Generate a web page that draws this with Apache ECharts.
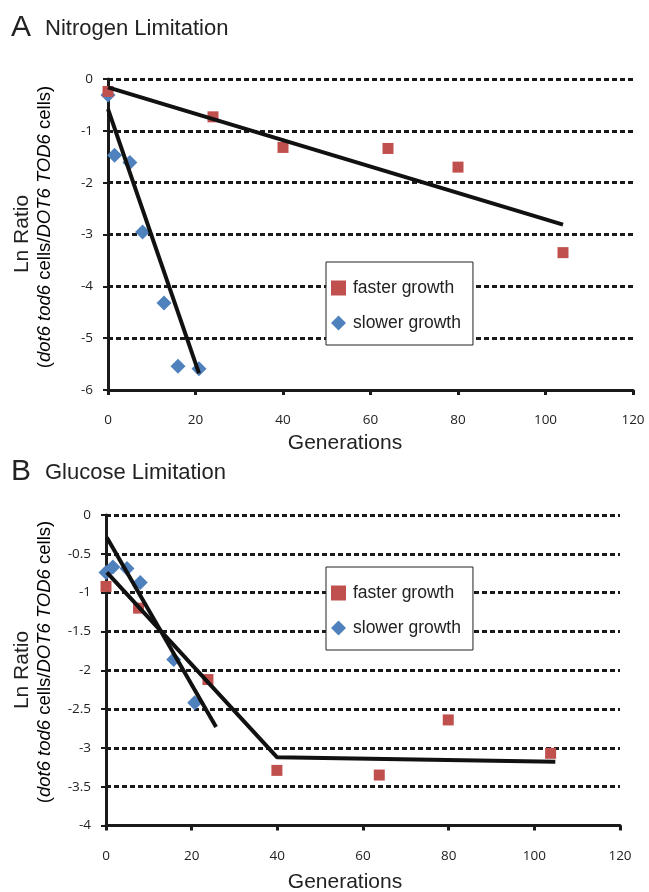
<!DOCTYPE html>
<html>
<head>
<meta charset="utf-8">
<script src="https://cdn.jsdelivr.net/npm/echarts@6/dist/echarts.min.js"></script>
<style>html,body{margin:0;padding:0;background:#fff;}#c{width:649px;height:892px;}</style>
</head>
<body>
<div id="c"></div>
<script>
// ---- Data ----
const xTicks = [0, 20, 40, 60, 80, 100, 120];

// Panel A: Nitrogen limitation
const genA_fast = [0, 24, 40, 64, 80, 104];
const lnA_fast  = [-0.24, -0.73, -1.32, -1.34, -1.70, -3.35];
const genA_slow = [0, 1.5, 5, 7.9, 12.8, 16, 20.8];
const lnA_slow  = [-0.31, -1.47, -1.61, -2.95, -4.32, -5.54, -5.59];
const trendA_fast_x = [0, 104];
const trendA_fast_y = [-0.16, -2.81];
const trendA_slow_x = [0, 20.8];
const trendA_slow_y = [-0.58, -5.68];

// Panel B: Glucose limitation
const genB_fast = [0, 7.6, 23.8, 39.9, 63.8, 79.9, 103.8];
const lnB_fast  = [-0.92, -1.20, -2.12, -3.29, -3.35, -2.64, -3.07];
const genB_slow = [0, 1.6, 4.9, 8, 15.8, 20.7];
const lnB_slow  = [-0.74, -0.67, -0.69, -0.87, -1.86, -2.42];
const trendB_slow_x = [0.2, 25.7];
const trendB_slow_y = [-0.29, -2.73];
const trendB_fast_x = [0.2, 39.9, 104.9];
const trendB_fast_y = [-0.74, -3.12, -3.18];

const legendNames = ['faster growth', 'slower growth'];

// ---- Build ----
const zip = (xs, ys) => xs.map((x, i) => [x, ys[i]]);
const RED = '#C0504D', BLUE = '#4F81BD', INK = '#1a1a1a';
const FONT = '"Liberation Sans", Arial, sans-serif';
const TICKFONT = '"Open Sans", "Liberation Sans", sans-serif';

function xAxis(gi, margin) {
  return {
    type: 'value', gridIndex: gi, min: 0, max: 120, interval: 20,
    axisLine: { show: true, onZero: false, lineStyle: { color: INK, width: 3 } },
    axisTick: { show: true, length: 5, lineStyle: { color: INK, width: 3 } },
    axisLabel: { margin: margin, color: '#222', fontSize: 13.5, fontFamily: TICKFONT },
    splitLine: { show: false }
  };
}
function yAxis(gi, min, interval) {
  return {
    type: 'value', gridIndex: gi, min: min, max: 0, interval: interval,
    axisLine: { show: true, onZero: false, lineStyle: { color: INK, width: 3 } },
    axisTick: { show: true, length: 5, lineStyle: { color: INK, width: 2 } },
    axisLabel: { margin: 15, color: '#222', fontSize: 13.5, fontFamily: TICKFONT },
    splitLine: { show: true, lineStyle: { color: INK, width: 3, type: [5, 3] } }
  };
}
function scatter(name, gi, xs, ys, sym, size, color) {
  return {
    type: 'scatter', name: name, xAxisIndex: gi, yAxisIndex: gi,
    data: zip(xs, ys), symbol: sym, symbolSize: size,
    itemStyle: { color: color, opacity: 1 }, z: 3, silent: true
  };
}
function trend(gi, xs, ys) {
  return {
    type: 'line', name: 'trend', xAxisIndex: gi, yAxisIndex: gi,
    data: zip(xs, ys), showSymbol: false, symbol: 'none',
    lineStyle: { color: '#111', width: 4 }, z: 4, silent: true, animation: false
  };
}
function legend(top) {
  return {
    left: 326, top: top, orient: 'vertical',
    data: [{ name: legendNames[0], icon: 'rect' }, { name: legendNames[1], icon: 'diamond' }],
    itemWidth: 15, itemHeight: 15, itemGap: 17,
    padding: [17, 12, 13, 5],
    backgroundColor: '#fff', borderColor: '#222', borderWidth: 1,
    textStyle: { fontSize: 17.5, color: '#222', fontFamily: FONT, padding: [0, 0, 0, 2] },
    selectedMode: false
  };
}
function yTitle(cx, cy1, cy2) {
  return [
    { type: 'text', x: cx, y: cy1, rotation: Math.PI / 2,
      style: { text: 'Ln Ratio', font: '21px ' + FONT, fill: '#222', align: 'center', verticalAlign: 'middle' } },
    { type: 'text', x: cx + 23, y: cy2, rotation: Math.PI / 2,
      style: {
        text: '{n|(}{i|dot6 tod6}{n| cells/}{i|DOT6 TOD6}{n| cells)}',
        align: 'center', verticalAlign: 'middle',
        rich: {
          n: { fontSize: 18.5, fontFamily: FONT, color: '#222' },
          i: { fontSize: 18.5, fontFamily: FONT, fontStyle: 'italic', color: '#222' }
        }
      } }
  ];
}
function title(letter, text, cy) {
  return [
    { type: 'text', x: 11, y: cy, style: { text: letter, font: '30px ' + FONT, fill: '#222', verticalAlign: 'middle' } },
    { type: 'text', x: 45, y: cy + 1, style: { text: text, font: '22px ' + FONT, fill: '#222', verticalAlign: 'middle' } }
  ];
}
function xTitle(cy) {
  return { type: 'text', x: 345, y: cy, style: { text: 'Generations', font: '21px ' + FONT, fill: '#222', align: 'center', verticalAlign: 'middle' } };
}

const chart = echarts.init(document.getElementById('c'), null, { renderer: 'canvas' });
chart.setOption({
  animation: false,
  backgroundColor: '#fff',
  grid: [
    { left: 108, top: 79, width: 525, height: 311 },
    { left: 106, top: 515, width: 514, height: 310.5 }
  ],
  xAxis: [xAxis(0, 23), xAxis(1, 24)],
  yAxis: [yAxis(0, -6, 1), yAxis(1, -4, 0.5)],
  legend: [legend(262), legend(567)],
  series: [
    scatter(legendNames[1], 0, genA_slow, lnA_slow, 'diamond', 15, BLUE),
    scatter(legendNames[0], 0, genA_fast, lnA_fast, 'rect', 11, RED),
    trend(0, trendA_fast_x, trendA_fast_y),
    trend(0, trendA_slow_x, trendA_slow_y),
    scatter(legendNames[1], 1, genB_slow, lnB_slow, 'diamond', 15, BLUE),
    scatter(legendNames[0], 1, genB_fast, lnB_fast, 'rect', 11, RED),
    trend(1, trendB_slow_x, trendB_slow_y),
    trend(1, trendB_fast_x, trendB_fast_y)
  ],
  graphic: [
    ...title('A', 'Nitrogen Limitation', 28),
    ...title('B', 'Glucose Limitation', 472),
    xTitle(443),
    xTitle(882),
    ...yTitle(22, 234, 227),
    ...yTitle(22, 670, 662)
  ]
});
</script>
</body>
</html>
